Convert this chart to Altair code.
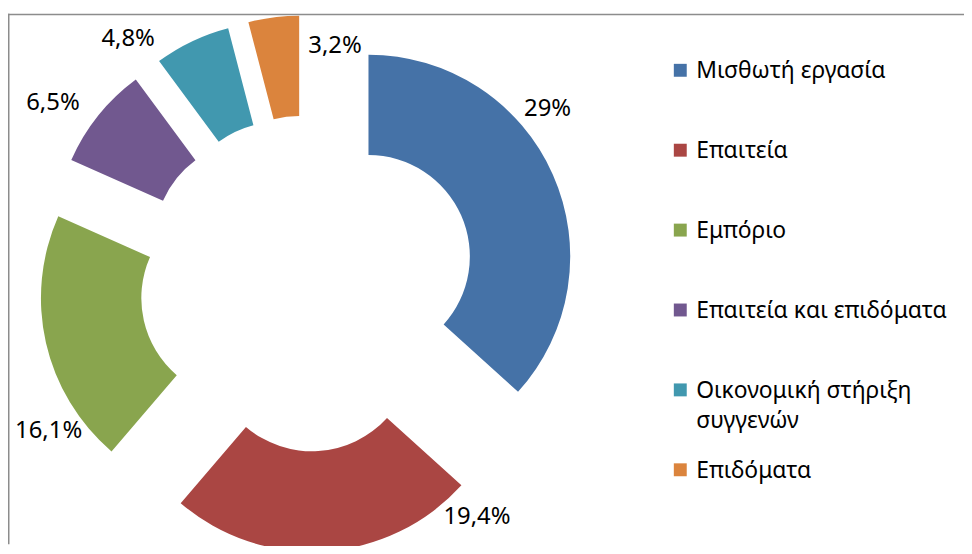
import textwrap
import altair as alt
import pandas as pd

# ---- data ----
categories = [
    "Μισθωτή εργασία",
    "Επαιτεία",
    "Εμπόριο",
    "Επαιτεία και επιδόματα",
    "Οικονομική στήριξη συγγενών",
    "Επιδόματα",
]
values = [29, 19.4, 16.1, 6.5, 4.8, 3.2]
value_labels = [f"{v:g}".replace(".", ",") + "%" for v in values]

# ---- style ----
colors = ["#4572A7", "#AA4643", "#89A54E", "#71588F", "#4198AF", "#DB843D"]
# data-label placement: angle (deg, clockwise from 12 o'clock) and distance from centre (px)
label_angle = [54, 144, 240.3, 305.3, 323.7, 6.6]
label_dist = [298.5, 290, 300, 314, 305, 240]

W, H = 962, 534
CX, CY = 301.5, 271.5
R_OUT, R_IN, EXPLODE = 203, 102, 67
FONT = "Noto Sans"
FS_LABEL = 24
FS_LEGEND = 23

df = pd.DataFrame({
    "cat": categories,
    "value": values,
    "label": value_labels,
    "idx": list(range(len(values))),
    "la": label_angle,
    "ld": label_dist,
    "legend_text": ["\n".join(textwrap.wrap(c, 24)) for c in categories],
})

xs = alt.Scale(domain=[0, W], range=[0, W])
ys = alt.Scale(domain=[0, H], range=[0, H])
color = alt.Color("cat:N", scale=alt.Scale(domain=categories, range=colors), legend=None)

base = (
    alt.Chart(df)
    .transform_window(cum="sum(value)", sort=[alt.SortField("idx")], frame=[None, 0])
    .transform_joinaggregate(total="sum(value)")
    .transform_calculate(
        a0="(datum.cum - datum.value) / datum.total * 2 * PI",
        a1="datum.cum / datum.total * 2 * PI",
    )
    .transform_calculate(mid="(datum.a0 + datum.a1) / 2")
    .transform_calculate(
        cx=f"{CX} + {EXPLODE} * sin(datum.mid)",
        cy=f"{CY} - {EXPLODE} * cos(datum.mid)",
        lx=f"{CX} + datum.ld * sin(datum.la * PI / 180)",
        ly=f"{CY} - datum.ld * cos(datum.la * PI / 180)",
    )
)

arcs = base.mark_arc(radius=R_OUT, radius2=R_IN).encode(
    x=alt.X("cx:Q", scale=xs, axis=None),
    y=alt.Y("cy:Q", scale=ys, axis=None),
    theta=alt.Theta("a0:Q", scale=None, stack=None),
    theta2="a1:Q",
    color=color,
)

labels = base.mark_text(
    font=FONT, fontSize=FS_LABEL, align="center", baseline="middle", color="#000000"
).encode(
    x=alt.X("lx:Q", scale=xs, axis=None),
    y=alt.Y("ly:Q", scale=ys, axis=None),
    text="label:N",
)

leg_y = alt.Y(
    "cat:N",
    sort=categories,
    scale=alt.Scale(type="point", domain=categories, range=[57, 459], padding=0),
    axis=None,
)

leg_sym = alt.Chart(df).mark_square(size=169, opacity=1).encode(
    x=alt.value(676.5), y=leg_y, color=color
)
leg_txt = alt.Chart(df).mark_text(
    font=FONT, fontSize=FS_LEGEND, align="left", baseline="alphabetic", dy=8,
    lineBreak="\n", lineHeight=30, color="#000000"
).encode(x=alt.value(692.5), y=leg_y, text="legend_text:N")

frame_df = pd.DataFrame({"frame": [0]})
frame_top = alt.Chart(frame_df).mark_rule(color="#8c8c8c", strokeWidth=1.5).encode(
    x=alt.value(0), x2=alt.value(W), y=alt.value(0.75)
)
frame_left = alt.Chart(frame_df).mark_rule(color="#8c8c8c", strokeWidth=1.5).encode(
    x=alt.value(0.75), y=alt.value(0), y2=alt.value(H)
)

chart = (
    alt.layer(arcs, labels, leg_sym, leg_txt, frame_top, frame_left)
    .resolve_scale(y="independent")
    .properties(
        width=W,
        height=H,
        padding={"left": 0, "top": 4, "right": 0, "bottom": 0},
        autosize=alt.AutoSizeParams(type="none"),
    )
    .configure_view(strokeWidth=0)
)

chart.save("out.html", embed_options={"renderer": "svg", "actions": False})
